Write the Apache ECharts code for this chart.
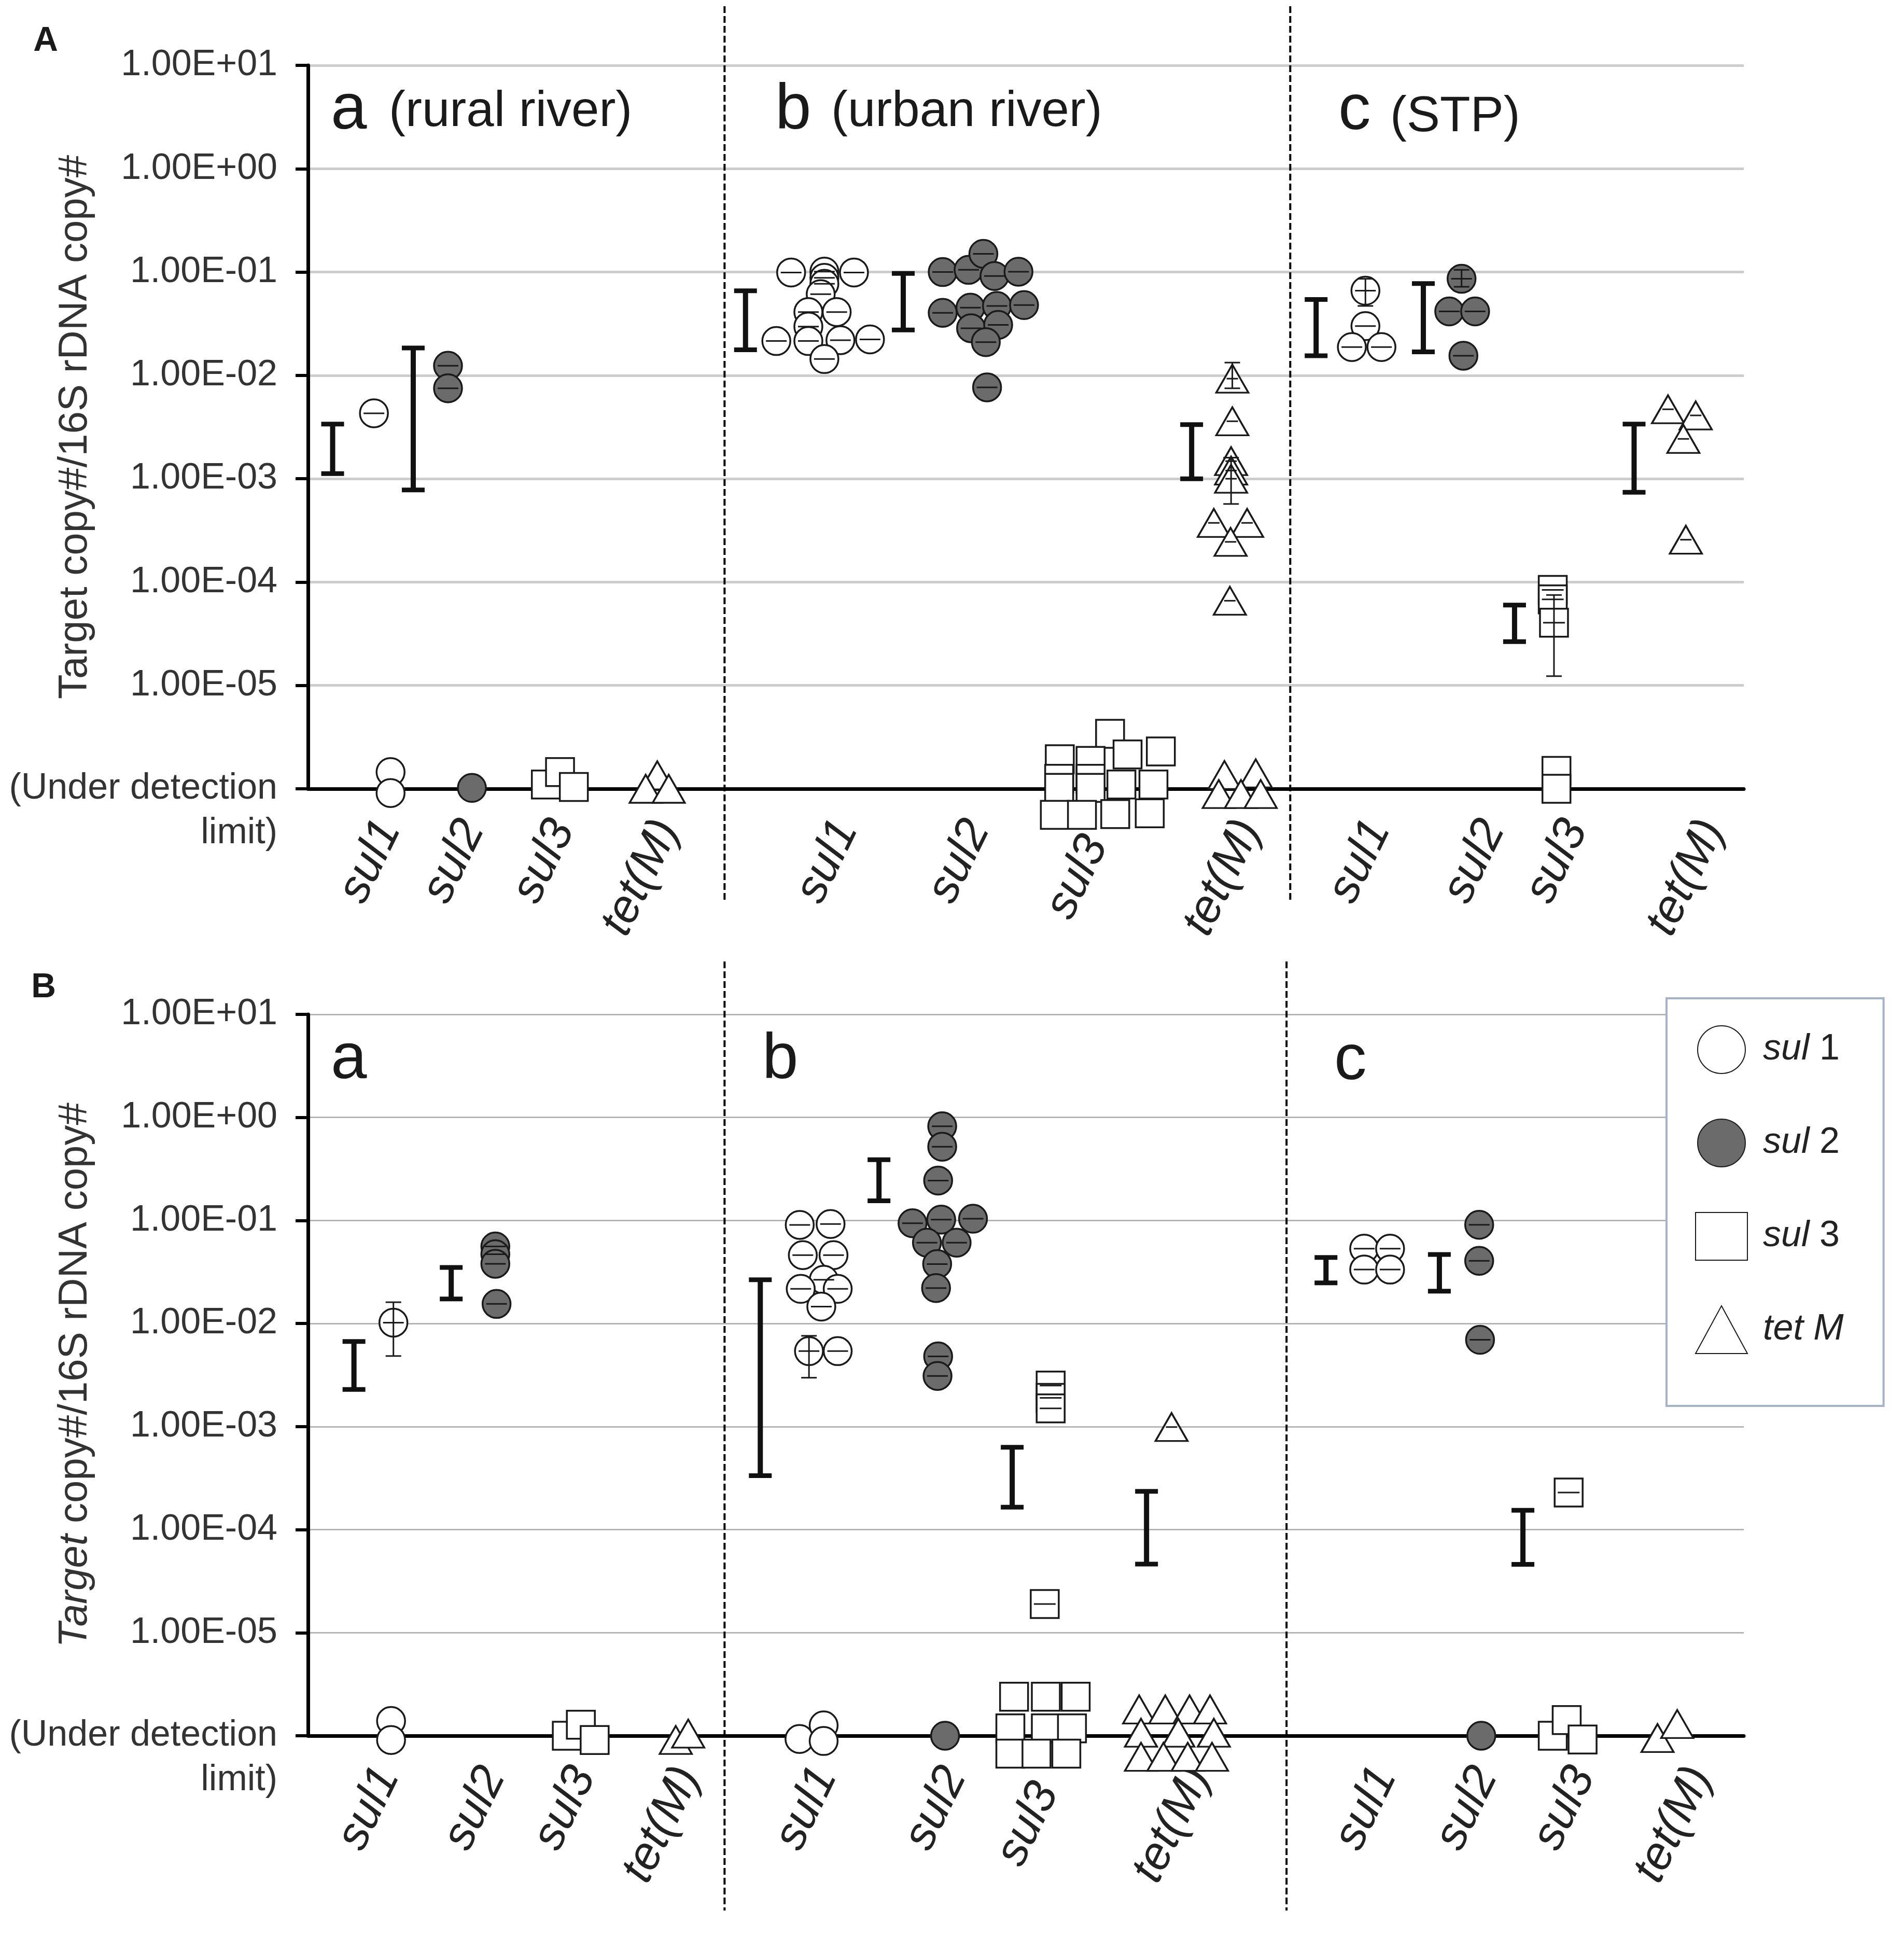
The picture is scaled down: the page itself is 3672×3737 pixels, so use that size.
<!DOCTYPE html>
<html>
<head>
<meta charset="utf-8">
<title>Target copy# / 16S rDNA copy#</title>
<script src="https://cdn.jsdelivr.net/npm/echarts@6/dist/echarts.min.js"></script>
<style>
html, body { margin: 0; padding: 0; background: #fff; }
#main { width: 3672px; height: 3737px; }
</style>
</head>
<body>
<div id="main"></div>
<script>
const FONT = '"Liberation Sans", Arial, Helvetica, sans-serif'

const geneNames = ['sul1', 'sul2', 'sul3', 'tet(M)']
const legendNames = ['sul 1', 'sul 2', 'sul 3', 'tet M']
const labelPosA = [316, 384, 457, 542, 687, 794, 896, 1014, 1119, 1212, 1279, 1390]
const labelPosB = [315, 401, 474, 559, 670, 775, 856, 973, 1124, 1206, 1285, 1380]
const sepXA = [588, 1047]
const sepXB = [588, 1044]
const yTickText = ['1.00E+01', '1.00E+00', '1.00E-01', '1.00E-02', '1.00E-03',
    '1.00E-04', '1.00E-05', '(Under detection\nlimit)']

// detected samples: [x, value] or [x, value, errLow, errHigh]
const A_sul1 = [
    [303.5, 4.3e-3],
    [642, 0.099], [669, 0.101], [669, 0.088], [669, 0.077], [666, 0.061], [656, 0.041],
    [679, 0.041], [693, 0.099], [656, 0.0297], [656, 0.0215], [630, 0.0215], [682, 0.0219],
    [706, 0.0223], [669, 0.0144],
    [1108, 0.066, 0.047, 0.086], [1108, 0.030], [1097, 0.0188], [1121, 0.0188]
]
const A_sul2 = [
    [363.6, 0.0124], [363.6, 0.0075],
    [765, 0.1], [786, 0.105], [798, 0.15], [807, 0.0916], [826.5, 0.1007], [765, 0.0403],
    [787.5, 0.0452], [809, 0.047], [831, 0.0479], [788, 0.0286], [810, 0.0308], [800, 0.021],
    [801, 0.00766],
    [1186, 0.086, 0.072, 0.105], [1176, 0.0416], [1197, 0.0416], [1187.5, 0.0155]
]
const A_sul3 = [
    [1260, 8.4e-5], [1260, 6.8e-5], [1261, 4.05e-5, 1.23e-5, 7.5e-5]
]
const A_tetM = [
    [1000, 0.0093, 0.0075, 0.0133], [1000, 3.6e-3], [999, 1.48e-3], [999, 1.2e-3],
    [999, 1.0e-3, 5.7e-4, 1.6e-3], [985, 3.74e-4], [1012, 3.74e-4], [998.6, 2.45e-4], [998, 6.6e-5],
    [1353.5, 4.7e-3], [1376, 4.1e-3], [1366, 2.43e-3], [1368, 2.57e-4]
]
// under the detection limit, spread around the bottom line
const A_sul1_nd = [[317, 1.45e-6], [317, 0.91e-6]]
const A_sul2_nd = [[383, 1.02e-6]]
const A_sul3_nd = [
    [443, 1.1e-6], [454.5, 1.45e-6], [465.7, 1.04e-6],
    [900.8, 3.4e-6], [860, 1.93e-6], [885, 1.86e-6], [915, 2.15e-6], [942, 2.3e-6],
    [859.5, 1.25e-6], [885, 1.25e-6], [859.5, 1.02e-6], [885, 1.02e-6], [910, 1.1e-6], [936, 1.1e-6],
    [856, 5.6e-7], [878, 5.6e-7], [905, 5.7e-7], [933, 5.8e-7],
    [1263, 1.49e-6], [1263, 1.0e-6]
]
const A_tetM_nd = [
    [533.4, 1.35e-6], [524, 1.0e-6], [542.7, 1.0e-6],
    [993.6, 1.36e-6], [1019, 1.41e-6], [989, 0.89e-6], [1007, 0.89e-6], [1023, 0.89e-6]
]
// range bars: [x, low, high]
const A_range = [
    [270, 1.12e-3, 3.38e-3], [335.4, 7.8e-4, 0.0184], [605, 0.0177, 0.0658], [733, 0.0275, 0.097],
    [967, 1.0e-3, 3.34e-3], [1068, 0.0155, 0.0542], [1155, 0.0169, 0.0775], [1229, 2.65e-5, 6.0e-5],
    [1326, 7.4e-4, 3.38e-3]
]

const B_sul1 = [
    [319.3, 0.0102, 4.84e-3, 0.0161],
    [649, 0.0906], [674, 0.0924], [651.5, 0.0461], [676.4, 0.0461], [668.5, 0.0266], [649.8, 0.0217],
    [679.8, 0.0217], [666.5, 0.0146], [656.5, 5.4e-3, 2.98e-3, 7.6e-3], [679.8, 5.4e-3],
    [1107, 0.0533], [1128, 0.0533], [1107, 0.0334], [1128, 0.0334]
]
const B_sul2 = [
    [402, 0.056], [402, 0.047], [402, 0.038], [403, 0.0155],
    [764.6, 0.82], [764.6, 0.52], [761.3, 0.244], [740.5, 0.094], [763.8, 0.102], [789.6, 0.104],
    [752.2, 0.0609], [776.3, 0.0609], [760.5, 0.0378], [759.6, 0.0221], [761.3, 4.8e-3], [760.8, 3.1e-3],
    [1200.3, 0.0908], [1200.3, 0.0406], [1201, 6.95e-3]
]
const B_sul3 = [
    [852.6, 2.5e-3], [852.6, 1.9e-3], [852.6, 1.5e-3], [847.8, 1.9e-5],
    [1272.9, 2.29e-4]
]
const B_tetM = [[950.7, 9.9e-4]]
const B_sul1_nd = [[317.4, 1.39e-6], [317.4, 0.91e-6], [648.8, 0.93e-6], [668.4, 1.26e-6], [668.4, 0.89e-6]]
const B_sul2_nd = [[766.9, 1.0e-6], [1202, 1.0e-6]]
const B_sul3_nd = [
    [460, 1.0e-6], [471.4, 1.28e-6], [482.6, 0.91e-6],
    [822.9, 2.39e-6], [848.7, 2.39e-6], [872.9, 2.39e-6], [819.9, 1.18e-6], [848.7, 1.18e-6],
    [869.9, 1.18e-6], [819.9, 6.7e-7], [841.1, 6.7e-7], [865.3, 6.7e-7],
    [1260, 1.0e-6], [1271.3, 1.42e-6], [1284.2, 0.92e-6]
]
const B_tetM_nd = [
    [548.4, 0.91e-6], [558.5, 1.05e-6],
    [924.4, 1.8e-6], [945.6, 1.8e-6], [965.3, 1.8e-6], [981.9, 1.8e-6],
    [925.9, 1.07e-6], [956.2, 1.07e-6], [985, 1.07e-6],
    [925.9, 6.25e-7], [944.1, 6.25e-7], [963.8, 6.25e-7], [983.5, 6.25e-7],
    [1345, 0.95e-6], [1361, 1.3e-6]
]
const B_range = [
    [287.3, 2.29e-3, 6.7e-3], [366.2, 0.0173, 0.035], [617, 3.34e-4, 0.0266], [713.3, 0.155, 0.389],
    [821.4, 1.65e-4, 6.3e-4], [930.4, 4.63e-5, 2.35e-4], [1076, 0.0248, 0.0437], [1168, 0.0206, 0.0468],
    [1235.8, 4.6e-5, 1.54e-4]
]

const markers = [
    { symbol: 'circle', size: 54, fill: '#fff', cap: 40 },
    { symbol: 'circle', size: 54, fill: '#6b6b6b', cap: 40 },
    { symbol: 'rect', size: 54, fill: '#fff', cap: 42 },
    { symbol: 'triangle', size: [62, 54], fill: '#fff', cap: 22 }
]

let myChart = echarts.init(document.getElementById('main'), null, { width: 3672, height: 3737 })

function whiskerRender(cap) {
    return function (params, api) {
        const x = api.value(0)
        const c = api.coord([x, api.value(1)])
        const lo = api.coord([x, api.value(2)])
        const hi = api.coord([x, api.value(3)])
        const st = { stroke: '#1a1a1a', lineWidth: 3 }
        const kids = [{ type: 'line', shape: { x1: c[0] - cap / 2, y1: c[1], x2: c[0] + cap / 2, y2: c[1] }, style: st }]
        if (Math.abs(lo[1] - hi[1]) > 2) {
            const w = 30
            kids.push({ type: 'line', shape: { x1: c[0], y1: hi[1], x2: c[0], y2: lo[1] }, style: st })
            kids.push({ type: 'line', shape: { x1: c[0] - w / 2, y1: hi[1], x2: c[0] + w / 2, y2: hi[1] }, style: st })
            kids.push({ type: 'line', shape: { x1: c[0] - w / 2, y1: lo[1], x2: c[0] + w / 2, y2: lo[1] }, style: st })
        }
        return { type: 'group', children: kids }
    }
}

function rangeRender(params, api) {
    const x = api.value(0)
    const lo = api.coord([x, api.value(1)])
    const hi = api.coord([x, api.value(2)])
    const half = 22
    const cap = { stroke: '#111', lineWidth: 9 }
    return {
        type: 'group',
        children: [
            { type: 'line', shape: { x1: hi[0], y1: hi[1], x2: lo[0], y2: lo[1] }, style: { stroke: '#111', lineWidth: 10 } },
            { type: 'line', shape: { x1: hi[0] - half, y1: hi[1], x2: hi[0] + half, y2: hi[1] }, style: cap },
            { type: 'line', shape: { x1: lo[0] - half, y1: lo[1], x2: lo[0] + half, y2: lo[1] }, style: cap }
        ]
    }
}

function panelSeries(idx, detected, nd, ranges) {
    const out = []
    detected.forEach(function (pts, i) {
        const m = markers[i]
        out.push({
            name: legendNames[i],
            type: 'scatter',
            xAxisIndex: idx, yAxisIndex: idx,
            symbol: m.symbol, symbolSize: m.size,
            itemStyle: { color: m.fill, borderColor: '#1a1a1a', borderWidth: 3.5, opacity: 1 },
            data: pts.map(p => [p[0], p[1]]).concat(nd[i]),
            clip: false, z: 3, silent: true
        })
        out.push({
            type: 'custom',
            xAxisIndex: idx, yAxisIndex: idx,
            data: pts.map(p => [p[0], p[1], p.length > 2 ? p[2] : p[1], p.length > 2 ? p[3] : p[1]]),
            renderItem: whiskerRender(m.cap),
            z: 4, silent: true
        })
    })
    out.push({
        type: 'custom',
        xAxisIndex: idx, yAxisIndex: idx,
        data: ranges,
        renderItem: rangeRender,
        z: 5, silent: true
    })
    return out
}

// the sul3 caption under the crowded urban-river cluster sits a little lower
function xAxisCfg(idx, labelPos, pushed) {
    return {
        type: 'value', gridIndex: idx, min: 250, max: 1415,
        axisLine: { show: true, onZero: false, lineStyle: { color: '#000', width: 7 } },
        axisTick: { show: false },
        splitLine: { show: false },
        axisLabel: {
            customValues: labelPos,
            formatter: function (v) {
                const i = labelPos.indexOf(v)
                return i === pushed ? '{p|' + geneNames[i % 4] + '}' : geneNames[i % 4]
            },
            rotate: 64, margin: 66,
            fontSize: 90, fontStyle: 'italic', fontFamily: FONT, color: '#222',
            rich: { p: { fontSize: 90, fontStyle: 'italic', fontFamily: FONT, color: '#222', padding: [0, 34, 0, 0] } }
        }
    }
}

function yAxisCfg(idx, name, gridColor, gridWidth) {
    return {
        type: 'log', logBase: 10, gridIndex: idx, min: 1e-6, max: 10, splitNumber: 7,
        axisLine: { show: true, lineStyle: { color: '#000', width: 7 } },
        axisTick: { show: true, length: 24, lineStyle: { color: '#000', width: 6 } },
        splitLine: { show: true, lineStyle: { color: gridColor, width: gridWidth } },
        axisLabel: {
            margin: 59, fontSize: 70, fontFamily: FONT, color: '#333', lineHeight: 86,
            formatter: function (v) {
                const i = Math.round(1 - Math.log10(v))
                return i === 7 ? ' \n' + yTickText[i] : yTickText[i]
            }
        },
        name: name, nameLocation: 'middle', nameGap: 410, nameRotate: 90, nameMoveOverlap: false,
        nameTextStyle: {
            fontSize: 78, fontFamily: FONT, color: '#333',
            rich: { i: { fontSize: 78, fontFamily: FONT, color: '#333', fontStyle: 'italic' } }
        }
    }
}

function label(text, x, y, size, extra) {
    return {
        type: 'text', x: x, y: y, z: 10,
        style: Object.assign({ text: text, fontSize: size, fontFamily: FONT, fill: '#1a1a1a', verticalAlign: 'middle' }, extra || {})
    }
}

let options = {
    animation: false,
    backgroundColor: '#fff',
    grid: [
        { left: 594, right: 309, top: 126, height: 1395, outerBoundsMode: 'none' },
        { left: 594, right: 309, top: 1956, height: 1391, outerBoundsMode: 'none' }
    ],
    xAxis: [xAxisCfg(0, labelPosA, 6), xAxisCfg(1, labelPosB, 6)],
    yAxis: [
        yAxisCfg(0, 'Target copy#/16S rDNA copy#', '#cdcdcd', 5),
        yAxisCfg(1, '{i|Target} copy#/16S rDNA copy#', '#a8a8a8', 2.5)
    ],
    legend: {
        data: legendNames,
        orient: 'vertical',
        left: 3214, top: 1925,
        padding: [52, 77, 100, 55],
        itemWidth: 100, itemHeight: 92, itemGap: 86,
        backgroundColor: '#fff',
        borderColor: '#a4b2cc', borderWidth: 4,
        selectedMode: false,
        formatter: name => name === 'tet M' ? '{i|tet M}' : '{i|sul} {n|' + name.slice(4) + '}',
        textStyle: {
            fontSize: 70, fontFamily: FONT, color: '#222',
            rich: {
                i: { fontSize: 70, fontFamily: FONT, color: '#222', fontStyle: 'italic', padding: [0, 0, 0, 25] },
                n: { fontSize: 70, fontFamily: FONT, color: '#222' }
            }
        }
    },
    series: panelSeries(0, [A_sul1, A_sul2, A_sul3, A_tetM], [A_sul1_nd, A_sul2_nd, A_sul3_nd, A_tetM_nd], A_range)
        .concat(panelSeries(1, [B_sul1, B_sul2, B_sul3, B_tetM], [B_sul1_nd, B_sul2_nd, B_sul3_nd, B_tetM_nd], B_range))
}

myChart.setOption(options)

// panel letters, site captions and the dashed separators between sites
let graphics = [
    label('A', 88, 80, 66, { fontWeight: 'bold', align: 'center' }),
    label('B', 84, 1905, 66, { fontWeight: 'bold', align: 'center' }),
    label('a', 638, 214, 125), label('(rural river)', 750, 217, 96),
    label('b', 1495, 214, 125), label('(urban river)', 1603, 217, 96),
    label('c', 2581, 215, 125), label('(STP)', 2681, 227, 96),
    label('a', 638, 2045, 125),
    label('b', 1470, 2045, 125),
    label('c', 2573, 2047, 125)
]
const dash = { stroke: '#000', lineWidth: 4, lineDash: [13, 6] }
sepXA.forEach(function (x) {
    const px = myChart.convertToPixel({ xAxisIndex: 0 }, x)
    graphics.push({ type: 'line', z: 2, shape: { x1: px, y1: 12, x2: px, y2: 1735 }, style: dash })
})
sepXB.forEach(function (x) {
    const px = myChart.convertToPixel({ xAxisIndex: 1 }, x)
    graphics.push({ type: 'line', z: 2, shape: { x1: px, y1: 1854, x2: px, y2: 3684 }, style: dash })
})
myChart.setOption({ graphic: graphics })
</script>
</body>
</html>
